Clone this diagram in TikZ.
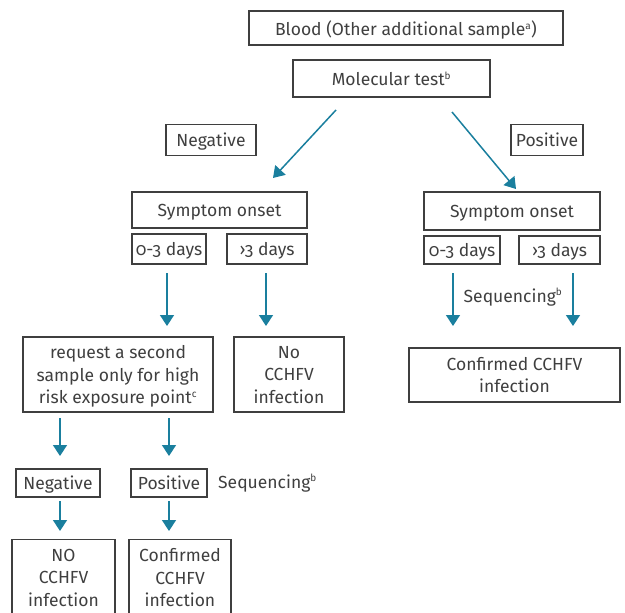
\documentclass[tikz,border=0pt]{standalone}
\usepackage{fontspec}
\setmainfont{Fira Sans}[Numbers=OldStyle]
\usetikzlibrary{arrows.meta}
\definecolor{txt}{HTML}{3F3F3F}
\definecolor{arrc}{HTML}{1A7F9E}
\tikzset{
  box/.style={draw=txt, line width=1.1pt, text=txt, align=center, inner sep=0pt, text depth=0pt, font=\fontsize{17.5}{22.5}\selectfont},
  lbl/.style={text=txt, inner sep=0pt, font=\fontsize{17.5}{22.5}\selectfont},
  arr/.style={draw=arrc, line width=1.5pt, -{Triangle[width=14pt,length=11pt]}},
}
\newcommand{\sups}[1]{\textsuperscript{\fontsize{10}{10}\selectfont #1}}
\begin{document}
\begin{tikzpicture}[x=1pt,y=-1pt]
\useasboundingbox (0,0) rectangle (625,613);
% top
\node[box, minimum width=314, minimum height=34] (blood) at (406,28) {Blood (Other additional sample\sups{a})};
\node[box, minimum width=197, minimum height=37] (mol) at (391.5,78.5) {Molecular test\sups{b}};
\node[box, minimum width=90, minimum height=31] (negT) at (211,140) {Negative};
\node[box, minimum width=72, minimum height=31] (posT) at (547,140) {Positive};
% left branch
\node[box, minimum width=175, minimum height=36] (symL) at (219.5,210) {Symptom onset};
\node[box, minimum width=74, minimum height=30] (d03L) at (169,249) {0-3 days};
\node[box, minimum width=80, minimum height=30] (d3L) at (267,249) {›3 days};
\node[box, minimum width=190, minimum height=75] (req) at (118,374.5) {request a second\\sample only for high\\risk exposure point\sups{c}};
\node[box, minimum width=110, minimum height=75] (noL) at (289,374.5) {No\\CCHFV\\infection};
\node[box, minimum width=84, minimum height=28] (negB) at (58,483) {Negative};
\node[box, minimum width=76, minimum height=28] (posB) at (169,483) {Positive};
\node[lbl, anchor=west] (seqB) at (218,483) {Sequencing\sups{b}};
\node[box, minimum width=103, minimum height=76, anchor=north] (noB) at (63.5,539) {NO\\CCHFV\\infection};
\node[box, minimum width=102, minimum height=76, anchor=north] (confB) at (180,539) {Confirmed\\CCHFV\\infection};
% right branch
\node[box, minimum width=176, minimum height=38] (symR) at (512,211) {Symptom onset};
\node[box, minimum width=76, minimum height=28] (d03R) at (462,250) {0-3 days};
\node[box, minimum width=81, minimum height=28] (d3R) at (559.5,250) {›3 days};
\node[lbl] (seqR) at (513,297) {Sequencing\sups{b}};
\node[box, minimum width=211, minimum height=54] (confR) at (514.5,375) {Confirmed CCHFV\\infection};
% coordinates for diagonal arrows
\coordinate (a1s) at (336,110);
\coordinate (a1e) at (273,178);
\coordinate (a2s) at (452,112);
\coordinate (a2e) at (516,189);
\draw[arr] (a1s) -- (a1e);
\draw[arr] (a2s) -- (a2e);
% vertical arrows
\coordinate (l1s) at (167,273); \coordinate (l1e) at (167,326);
\coordinate (l2s) at (266,273); \coordinate (l2e) at (266,326);
\coordinate (r1s) at (453,273); \coordinate (r1e) at (453,326);
\coordinate (r2s) at (573,273); \coordinate (r2e) at (573,326);
\draw[arr] (l1s) -- (l1e);
\draw[arr] (l2s) -- (l2e);
\draw[arr] (r1s) -- (r1e);
\draw[arr] (r2s) -- (r2e);
\coordinate (b1s) at (60,418); \coordinate (b1e) at (60,456);
\coordinate (b2s) at (169,418); \coordinate (b2e) at (169,456);
\coordinate (c1s) at (60,501); \coordinate (c1e) at (60,531);
\coordinate (c2s) at (169,501); \coordinate (c2e) at (169,531);
\draw[arr] (b1s) -- (b1e);
\draw[arr] (b2s) -- (b2e);
\draw[arr] (c1s) -- (c1e);
\draw[arr] (c2s) -- (c2e);
\end{tikzpicture}
\end{document}
